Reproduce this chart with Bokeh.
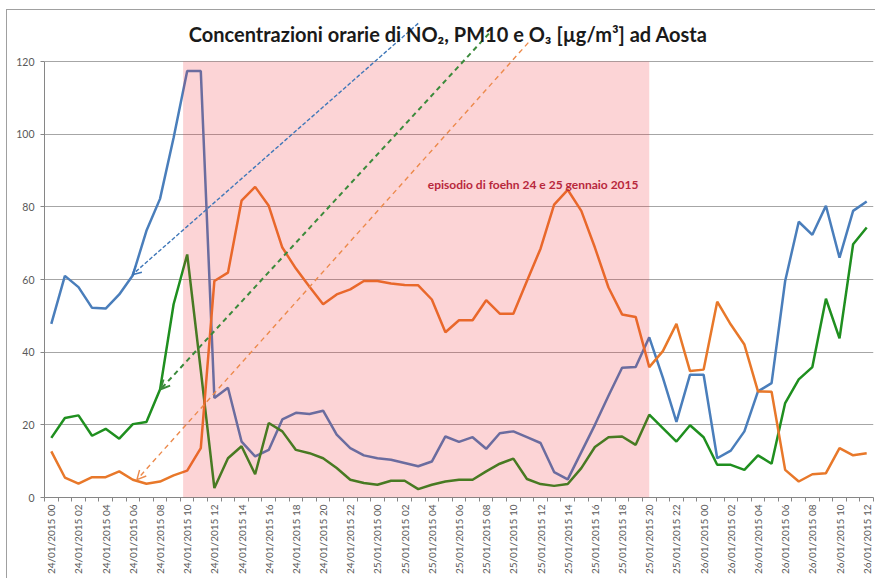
from bokeh.plotting import figure
from bokeh.models import (Range1d, FixedTicker, BoxAnnotation, Label, Arrow, OpenHead)
from bokeh.embed import file_html
from bokeh.resources import INLINE

# ---------------- data ----------------
hours = list(range(61))  # 24/01/2015 00 .. 26/01/2015 12, hourly

no2 = [47.8, 61.0, 57.9, 52.2, 52.0, 55.9, 61.2, 73.4, 82.2, 99.0,
       117.4, 117.4, 27.4, 30.2, 15.4, 11.3, 13.1, 21.5, 23.3, 23.0,
       23.9, 17.3, 13.6, 11.6, 10.8, 10.4, 9.5, 8.6, 9.9, 16.8,
       15.3, 16.6, 13.4, 17.7, 18.2, 16.6, 15.0, 7.0, 5.0, 12.5,
       20.0, 28.0, 35.7, 35.9, 44.1, 33.0, 20.8, 33.8, 33.8, 10.8,
       12.9, 18.2, 29.2, 31.5, 59.6, 75.9, 72.3, 80.3, 66.0, 78.9,
       81.5]

pm10 = [16.4, 21.9, 22.6, 17.0, 18.9, 16.2, 20.2, 20.8, 29.7, 53.2,
        66.9, 35.0, 2.6, 10.8, 14.1, 6.4, 20.5, 18.2, 13.1, 12.2,
        10.8, 8.1, 4.9, 4.0, 3.5, 4.6, 4.6, 2.3, 3.5, 4.4,
        4.9, 4.9, 7.2, 9.3, 10.7, 5.1, 3.7, 3.2, 3.7, 8.1,
        13.9, 16.6, 16.8, 14.5, 22.8, 19.1, 15.4, 19.9, 16.6, 9.0,
        9.0, 7.6, 11.6, 9.3, 26.0, 32.5, 35.9, 54.7, 43.8, 69.7,
        74.3]

o3 = [12.7, 5.5, 3.8, 5.6, 5.6, 7.2, 4.9, 3.8, 4.4, 6.1,
      7.4, 13.6, 59.6, 61.9, 81.7, 85.5, 80.3, 68.8, 63.0, 58.0,
      53.2, 55.9, 57.3, 59.6, 59.6, 58.9, 58.5, 58.4, 54.5, 45.5,
      48.8, 48.8, 54.3, 50.6, 50.6, 59.6, 68.5, 80.6, 84.7, 78.9,
      68.8, 57.8, 50.4, 49.7, 35.9, 40.3, 47.8, 34.8, 35.2, 53.9,
      47.6, 42.1, 29.2, 29.1, 7.6, 4.4, 6.4, 6.7, 13.6, 11.6,
      12.2]

x_tick_labels = [
    "24/01/2015 00", "24/01/2015 02", "24/01/2015 04", "24/01/2015 06",
    "24/01/2015 08", "24/01/2015 10", "24/01/2015 12", "24/01/2015 14",
    "24/01/2015 16", "24/01/2015 18", "24/01/2015 20", "24/01/2015 22",
    "25/01/2015 00", "25/01/2015 02", "25/01/2015 04", "25/01/2015 06",
    "25/01/2015 08", "25/01/2015 10", "25/01/2015 12", "25/01/2015 14",
    "25/01/2015 16", "25/01/2015 18", "25/01/2015 20", "25/01/2015 22",
    "26/01/2015 00", "26/01/2015 02", "26/01/2015 04", "26/01/2015 06",
    "26/01/2015 08", "26/01/2015 10", "26/01/2015 12"]
x_tick_pos = hours[::2]

y_ticks = [0, 20, 40, 60, 80, 100, 120]

# foehn episode: from 24/01 ~10 to 25/01 20
episode_start = 9.7
episode_end = 44

title_text = "Concentrazioni orarie di NO\u2082, PM10 e O\u2083 [\u00b5g/m\u00b3] ad Aosta"
episode_text = "episodio di foehn 24 e 25 gennaio 2015"

# dashed pointer arrows (top end -> series)
arrow_no2 = dict(x0=27.0, y0=130.5, x1=5.95, y1=61.3)
arrow_pm10 = dict(x0=32.2, y0=127.7, x1=8.05, y1=29.8)
arrow_o3 = dict(x0=35.1, y0=125.2, x1=6.3, y1=4.9)

# ---------------- figure ----------------
FONT = "Lato"
p = figure(width=868, height=568, output_backend="svg", toolbar_location=None,
           x_range=Range1d(-0.5, 60.5), y_range=Range1d(0, 133.5),
           min_border_left=37, min_border_right=2, min_border_top=2,
           min_border_bottom=81)
p.margin = (10, 0, 0, 7)
p.styles = {"outline": "1px solid #a0a0a0"}
p.outline_line_color = None
p.background_fill_color = "white"
p.border_fill_color = "white"

# axes
p.xaxis.ticker = FixedTicker(ticks=x_tick_pos,
                             minor_ticks=[h - 0.5 for h in hours] + [hours[-1] + 0.5])
p.xaxis.major_label_overrides = {pos: lab for pos, lab in zip(x_tick_pos, x_tick_labels)}
p.xaxis.major_label_orientation = 1.5708
p.xaxis.major_tick_out = 0
p.xaxis.major_tick_in = 0
p.xaxis.minor_tick_out = 4
p.xaxis.minor_tick_in = 0
p.xaxis.minor_tick_line_color = "#868686"
p.xaxis.axis_line_color = "#868686"
p.xaxis.major_label_text_font = FONT
p.xaxis.major_label_text_font_size = "10px"
p.xaxis.major_label_text_color = "#595959"
p.xaxis.major_label_standoff = 3

p.yaxis.ticker = FixedTicker(ticks=y_ticks)
p.yaxis.bounds = (y_ticks[0], y_ticks[-1])
p.yaxis.minor_tick_line_color = None
p.yaxis.major_tick_out = 4
p.yaxis.major_tick_in = 0
p.yaxis.major_tick_line_color = "#868686"
p.yaxis.axis_line_color = "#868686"
p.yaxis.major_label_text_font = FONT
p.yaxis.major_label_text_font_size = "10.5px"
p.yaxis.major_label_text_color = "#595959"
p.yaxis.major_label_standoff = 6

p.xgrid.visible = False
p.ygrid.ticker = FixedTicker(ticks=y_ticks[1:])
p.ygrid.grid_line_color = "#a6a6a6"
p.ygrid.grid_line_width = 1

# series
p.line(hours, no2, line_color="#4a7ebb", line_width=2.5)
p.line(hours, pm10, line_color="#1f8f1f", line_width=2.5)
p.line(hours, o3, line_color="#e8782a", line_width=2.5)

# episode shading (drawn over lines, tinting them)
p.add_layout(BoxAnnotation(left=episode_start, right=episode_end,
                           bottom=y_ticks[0], top=y_ticks[-1],
                           fill_color="#f02832", fill_alpha=0.2, line_color=None))

# pointer arrows
for a, col, w, dash in [(arrow_no2, "#3f77b8", 1.4, "4 2"),
                        (arrow_pm10, "#3b8a3b", 2.0, "5 4"),
                        (arrow_o3, "#ec8a4c", 1.4, "5 4")]:
    p.add_layout(Arrow(x_start=a["x0"], y_start=a["y0"], x_end=a["x1"], y_end=a["y1"],
                       line_color=col, line_width=w, line_dash=dash,
                       start=None,
                       end=OpenHead(size=9, line_color=col, line_width=w)))

# texts
p.add_layout(Label(x=29.2, y=127.7, text=title_text, text_font=FONT,
                   text_font_size="20px", text_font_style="bold",
                   text_color="#1a1a1a", text_align="center", text_baseline="middle"))
p.add_layout(Label(x=27.7, y=86.2, text=episode_text, text_font=FONT,
                   text_font_size="12px", text_font_style="bold",
                   text_color="#b8283c", text_align="left", text_baseline="middle"))

open("out.html", "w").write(file_html(p, INLINE))
